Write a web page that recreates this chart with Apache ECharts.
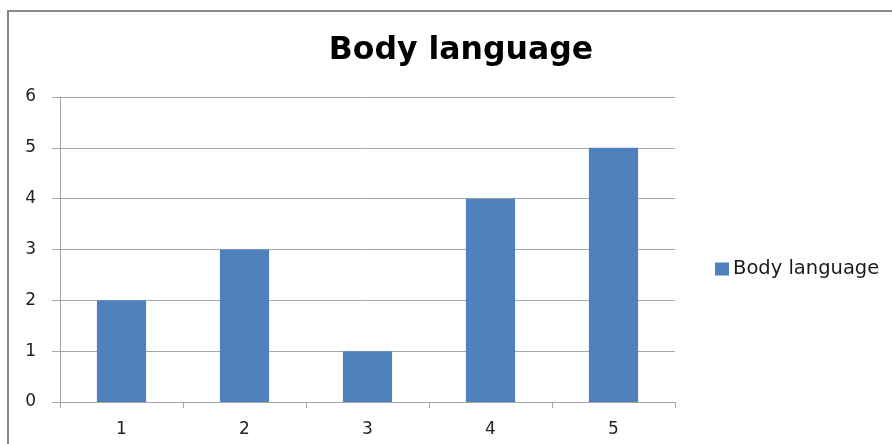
<!DOCTYPE html>
<html>
<head>
<meta charset="utf-8">
<script src="https://cdn.jsdelivr.net/npm/echarts@6/dist/echarts.min.js"></script>
<style>
  html, body { margin: 0; padding: 0; background: #fff; }
  #chart { width: 892px; height: 444px; }
</style>
</head>
<body>
<div id="chart"></div>
<script>
const categories = ['1', '2', '3', '4', '5'];
const seriesName = 'Body language';
const values = [2, 3, 1, 4, 5];
const yTicks = [0, 1, 2, 3, 4, 5, 6];

const chart = echarts.init(document.getElementById('chart'));
const font = '"DejaVu Sans", "Open Sans", sans-serif';

chart.setOption({
  animation: false,
  backgroundColor: '#ffffff',
  graphic: [{
    type: 'rect',
    shape: { x: 8, y: 11, width: 900, height: 460 },
    style: { fill: 'none', stroke: '#888888', lineWidth: 2 },
    silent: true
  }],
  title: {
    text: 'Body language',
    left: 456,
    textAlign: 'center',
    top: 30,
    textStyle: { fontFamily: font, fontWeight: 'bold', fontSize: 31.5, color: '#000' }
  },
  legend: {
    data: [seriesName],
    left: 710,
    top: 254,
    itemWidth: 14,
    itemHeight: 13,
    itemGap: 6,
    icon: 'rect',
    textStyle: { fontFamily: font, fontSize: 19.5, color: '#1a1a1a', padding: [0, 0, 0, -1] }
  },
  grid: { left: 60, right: 217, top: 97, bottom: 42, containLabel: false },
  xAxis: {
    type: 'category',
    data: categories,
    axisLine: { lineStyle: { color: '#a6a6a6', width: 1 } },
    axisTick: { show: true, length: 6, lineStyle: { color: '#a6a6a6' }, alignWithLabel: false },
    axisLabel: { margin: 19, fontFamily: font, fontSize: 17, color: '#222' },
    splitLine: { show: false }
  },
  yAxis: {
    type: 'value',
    min: yTicks[0],
    max: yTicks[yTicks.length - 1],
    interval: 1,
    axisLine: { show: true, lineStyle: { color: '#a6a6a6', width: 1 } },
    axisTick: { show: true, length: 8, lineStyle: { color: '#a6a6a6' } },
    axisLabel: { margin: 24, fontFamily: font, fontSize: 17, color: '#222', padding: [2, 0, 0, 0] },
    splitLine: { show: true, lineStyle: { color: '#a6a6a6', width: 1 } }
  },
  series: [{
    name: seriesName,
    type: 'bar',
    data: values,
    barWidth: '40%',
    itemStyle: { color: '#4f81bd' }
  }]
});
</script>
</body>
</html>
